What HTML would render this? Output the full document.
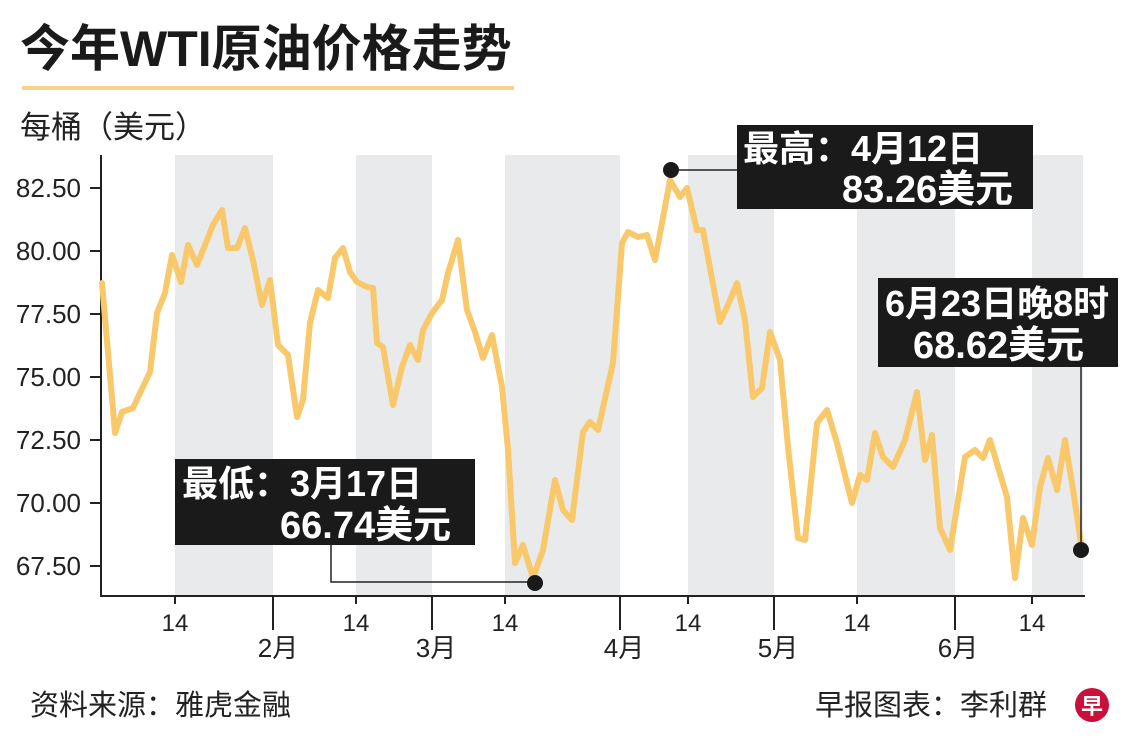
<!DOCTYPE html>
<html><head><meta charset="utf-8"><style>
html,body{margin:0;padding:0;background:#fff;}
svg{display:block;font-family:"Liberation Sans","Noto Sans CJK SC",sans-serif;}
</style></head><body>
<svg width="1140" height="752" viewBox="0 0 1140 752" xmlns="http://www.w3.org/2000/svg">
<text x="20" y="66" font-size="50" font-weight="bold" fill="#1a1a1a">今年WTI原油价格走势</text>
<rect x="22" y="86" width="492" height="4" fill="#f7d48a"/>
<text x="20" y="138" font-size="31" fill="#222">每桶（美元）</text>
<g fill="#e9eaec">
<rect x="175" y="155" width="98" height="441"/>
<rect x="356" y="155" width="76" height="441"/>
<rect x="505" y="155" width="115" height="441"/>
<rect x="688" y="155" width="86" height="441"/>
<rect x="857" y="155" width="98" height="441"/>
<rect x="1032" y="155" width="51" height="441"/>
</g>
<g stroke="#222" stroke-width="2" fill="none">
<path d="M101 155V596H1085"/>
<path d="M90 188H101M90 251H101M90 314H101M90 377H101M90 440H101M90 503H101M90 566H101"/>
<path d="M175 596V604M356 596V604M505 596V604M688 596V604M857 596V604M1032 596V604"/>
<path d="M273 596V630M432 596V630M620 596V630M774 596V630M955 596V630"/>
</g>
<g font-size="26" fill="#222" text-anchor="end">
<text x="81" y="197">82.50</text><text x="81" y="260">80.00</text><text x="81" y="323">77.50</text><text x="81" y="386">75.00</text><text x="81" y="449">72.50</text><text x="81" y="512">70.00</text><text x="81" y="575">67.50</text>
</g>
<g font-size="24" fill="#222" text-anchor="middle">
<text x="175" y="631">14</text><text x="356" y="631">14</text><text x="505" y="631">14</text><text x="688" y="631">14</text><text x="857" y="631">14</text><text x="1032" y="631">14</text>
</g>
<g font-size="26" fill="#222" text-anchor="middle">
<text x="278" y="657">2月</text><text x="436" y="657">3月</text><text x="624" y="657">4月</text><text x="778" y="657">5月</text><text x="958" y="657">6月</text>
</g>
<polyline fill="none" stroke="#f9c86a" stroke-width="6" stroke-linejoin="round" stroke-linecap="round" points="102,283 115,433 122,412 133,408 140,393 150,372 157,313 165,293 172,255 181,282 188,245 197,265 203,250 213,225 222,210 228,248 237,248 245,228 253,260 262,305 270,280 278,345 288,355 297,417 303,400 310,323 318,290 328,298 335,258 343,248 350,272 357,282 367,287 373,288 377,343 383,347 393,405 402,367 410,345 418,360 423,330 432,313 442,300 448,273 458,240 467,310 475,332 483,358 492,335 502,387 508,450 515,563 523,545 533,578 543,550 555,480 563,510 572,520 583,432 590,422 598,430 613,363 622,243 628,232 638,237 647,235 655,260 662,223 670,180 680,197 687,188 697,230 703,230 720,322 728,305 737,283 745,320 753,397 762,388 770,332 780,360 788,447 798,538 805,540 817,423 827,410 837,443 852,503 860,475 867,480 875,433 883,457 893,467 905,440 917,392 925,460 932,435 940,528 950,550 965,457 975,450 983,458 990,440 998,467 1007,497 1015,578 1023,518 1032,545 1040,487 1048,458 1057,490 1065,440 1072,483 1082,550"/>
<g stroke="#222" stroke-width="1.5" fill="none">
<path d="M331 545V582H535"/>
<path d="M671 170H737"/>
<path d="M1081 367V550"/>
</g>
<g fill="#1a1a1a">
<circle cx="535" cy="583" r="8"/>
<circle cx="671" cy="170" r="8"/>
<circle cx="1081" cy="550" r="8"/>
<rect x="175" y="459" width="300" height="86"/>
<rect x="737" y="125" width="296" height="84"/>
<rect x="878" y="278" width="240" height="89"/>
</g>
<g fill="#fff" font-size="36" font-weight="bold">
<text x="182" y="496">最低：3月17日</text>
<text x="743" y="161">最高：4月12日</text>
<text x="885" y="316">6月23日晚8时</text>
</g>
<g fill="#fff" font-size="38" font-weight="bold">
<text x="280" y="538">66.74美元</text>
<text x="842" y="202">83.26美元</text>
<text x="913" y="358">68.62美元</text>
</g>
<g font-size="29" fill="#222">
<text x="30" y="715">资料来源：雅虎金融</text>
<text x="815" y="715">早报图表：李利群</text>
</g>
<circle cx="1092" cy="705" r="17" fill="#c8103a"/>
<text x="1092" y="714" font-size="22" font-weight="bold" fill="#fff" text-anchor="middle">早</text>
</svg>
</body></html>
